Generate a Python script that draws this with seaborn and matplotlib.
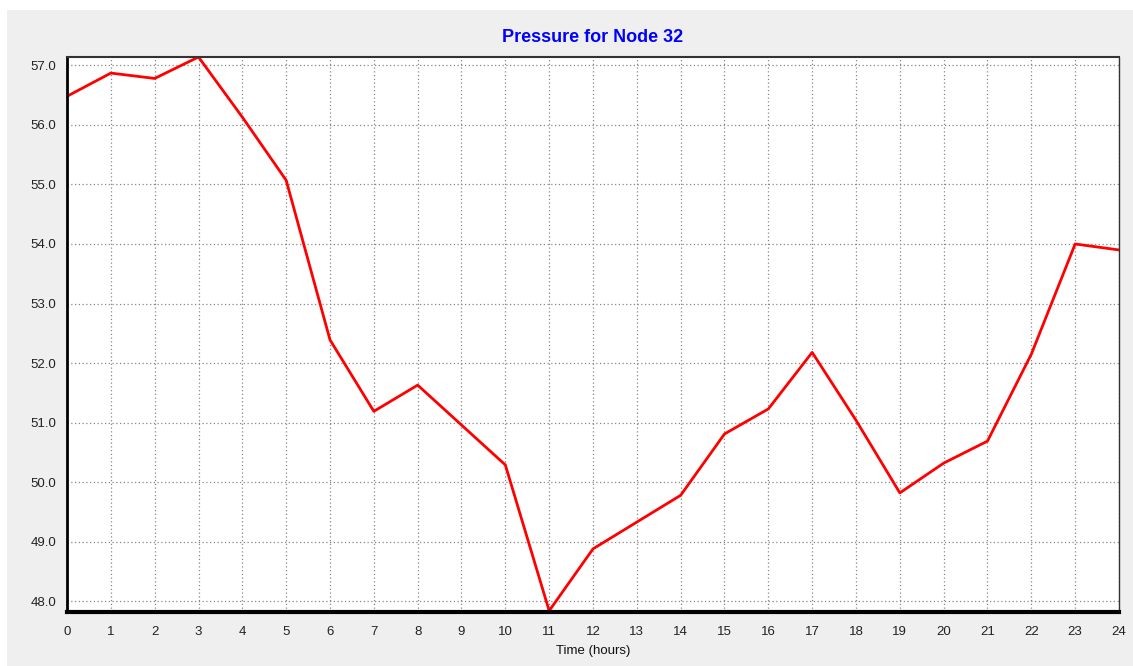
import numpy as np
import pandas as pd
import seaborn as sns
import matplotlib.pyplot as plt
from matplotlib.patches import Rectangle

# Pressure for Node 32
hours = list(range(25))
pressure = [56.48, 56.87, 56.78, 57.14, 56.13, 55.07, 52.39, 51.19, 51.63, 50.96,
            50.29, 47.84, 48.88, 49.33, 49.78, 50.81, 51.23, 52.18, 51.04, 49.82,
            50.32, 50.69, 52.15, 54.00, 53.90]
y_ticks = [48, 49, 50, 51, 52, 53, 54, 55, 56, 57]

df = pd.DataFrame({'hora': hours, 'presion': pressure})

sns.set_style('white')
plt.rcParams['font.family'] = ['Liberation Sans Narrow', 'Liberation Sans', 'DejaVu Sans']

W, H = 1133, 666
fig = plt.figure(figsize=(W / 100, H / 100), dpi=100, facecolor='white')
fig.add_artist(Rectangle((7 / W, 0), 1 - 7 / W, 1 - 10 / H, transform=fig.transFigure,
                         facecolor='#efefef', edgecolor='none', zorder=-10))
ax = fig.add_axes([67 / W, 1 - 612 / H, (1119 - 67) / W, (612 - 57) / H])
ax.set_facecolor('white')

sns.lineplot(data=df, x='hora', y='presion', color='#ff0000', linewidth=2, ax=ax)

ax.set_xlim(0, 24)
ax.set_ylim(47.82, 57.14)
ax.set_xticks(hours)
ax.set_yticks(y_ticks)
ax.set_yticklabels([f'{v:.1f}' for v in y_ticks])
ax.tick_params(axis='both', labelsize=9.5, length=4, width=0.8, colors='#555555',
               labelcolor='#222222', direction='out')
ax.tick_params(axis='x', pad=6)

ax.grid(True, linestyle=(0, (1, 2)), color='#888888', linewidth=0.9)
ax.set_axisbelow(True)

ax.spines['left'].set_linewidth(2)
ax.spines['left'].set_color('black')
ax.spines['bottom'].set_linewidth(3)
ax.spines['bottom'].set_color('black')
ax.spines['top'].set_linewidth(1.5)
ax.spines['top'].set_color('#333333')
ax.spines['right'].set_linewidth(1)
ax.spines['right'].set_linestyle((0, (1, 1)))
ax.spines['right'].set_color('#333333')

ax.set_title('Pressure for Node 32', color='#0000ff', fontsize=13, fontweight='bold', pad=11)
ax.set_xlabel('Time (hours)', fontsize=9.5, labelpad=5, color='#111111')
ax.set_ylabel('')

fig.savefig('out.png', dpi=100, facecolor=fig.get_facecolor())
